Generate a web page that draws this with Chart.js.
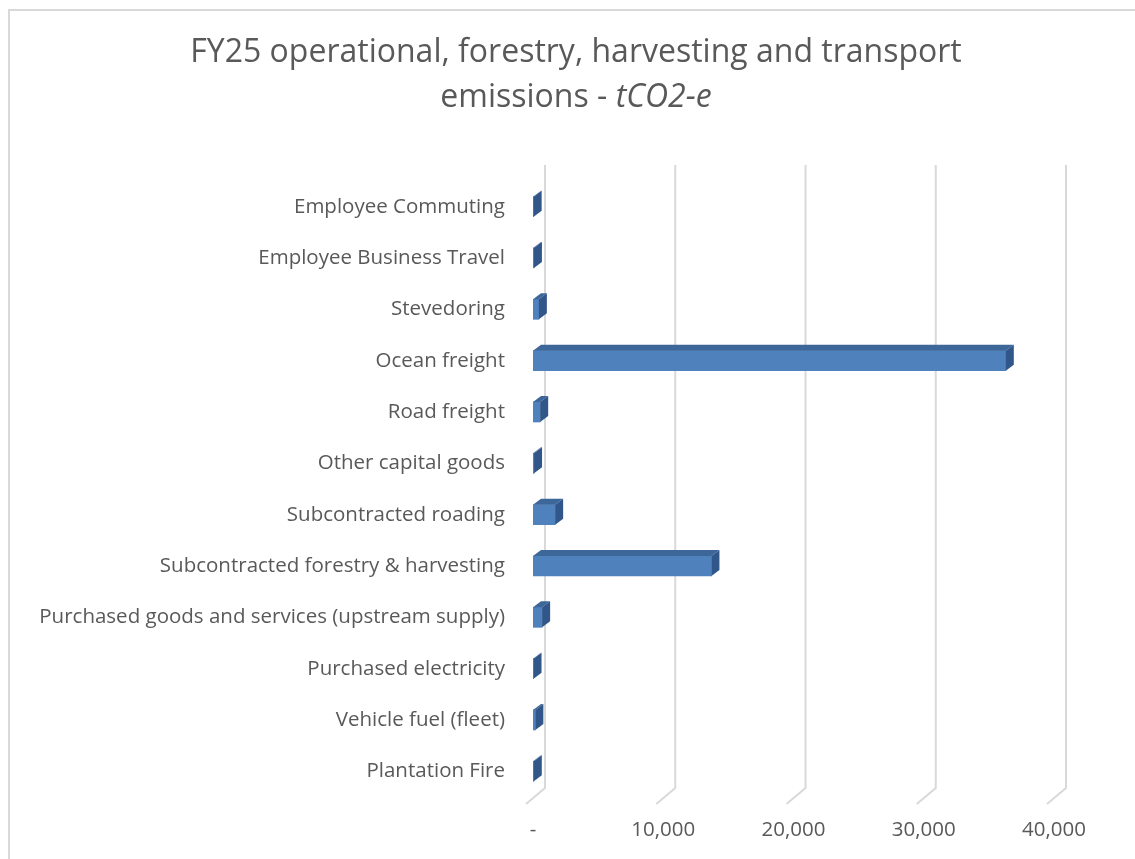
<!DOCTYPE html>
<html>
<head>
<meta charset="utf-8">
<script src="https://cdn.jsdelivr.net/npm/chart.js@4"></script>
<style>
  body { margin: 0; background: #fff; }
  #wrap { width: 1135px; height: 859px; }
</style>
</head>
<body>
<div id="wrap"><canvas id="emissionsChart" width="1135" height="859"></canvas></div>
<script>
// categories, top to bottom as shown
const categories = [
    'Employee Commuting',
    'Employee Business Travel',
    'Stevedoring',
    'Ocean freight',
    'Road freight',
    'Other capital goods',
    'Subcontracted roading',
    'Subcontracted forestry & harvesting',
    'Purchased goods and services (upstream supply)',
    'Purchased electricity',
    'Vehicle fuel (fleet)',
    'Plantation Fire'
];
// tCO2-e
const emissions = [50, 70, 450, 36300, 550, 80, 1700, 13700, 700, 40, 180, 60];
const xTicks = [0, 10000, 20000, 30000, 40000];

const textColor = '#595959';
const gridColor = '#d9d9d9';
const fontFamily = 'Open Sans';
const depthX = 8, depthY = -6;

const chartFrame = {
    id: 'chartFrame',
    beforeDraw(chart) {
        const c = chart.ctx;
        c.save();
        c.strokeStyle = gridColor;
        c.lineWidth = 2;
        c.beginPath();
        c.moveTo(9, chart.height);
        c.lineTo(9, 10);
        c.lineTo(chart.width, 10);
        c.stroke();

        // title, with the unit in italics
        c.fillStyle = textColor;
        c.textBaseline = 'middle';
        c.textAlign = 'center';
        c.font = '32px ' + fontFamily;
        c.fillText('FY25 operational, forestry, harvesting and transport', 576, 53);
        const a = 'emissions - ';
        const b = 'tCO2-e';
        const wa = c.measureText(a).width;
        c.font = 'italic 32px ' + fontFamily;
        const wb = c.measureText(b).width;
        const x0 = 576 - (wa + wb) / 2;
        c.textAlign = 'left';
        c.font = '32px ' + fontFamily;
        c.fillText(a, x0, 98);
        c.font = 'italic 32px ' + fontFamily;
        c.fillText(b, x0 + wa, 98);
        c.restore();
    },
    beforeDatasetsDraw(chart) {
        // back wall gridlines and floor slants
        const c = chart.ctx;
        const xs = chart.scales.x;
        const area = chart.chartArea;
        c.save();
        c.strokeStyle = gridColor;
        c.lineWidth = 2;
        xTicks.forEach(v => {
            const px = xs.getPixelForValue(v) + 12;
            c.beginPath();
            c.moveTo(px, area.top - 16);
            c.lineTo(px, area.bottom - 9);
            c.lineTo(px - 19, area.bottom + 7);
            c.stroke();
        });
        c.restore();
    },
    afterDatasetsDraw(chart) {
        // top and side faces of the bars
        const c = chart.ctx;
        chart.getDatasetMeta(0).data.forEach(bar => {
            const top = bar.y - bar.height / 2;
            const bottom = bar.y + bar.height / 2;
            c.save();
            c.fillStyle = '#3d6799';
            c.beginPath();
            c.moveTo(bar.base, top);
            c.lineTo(bar.x, top);
            c.lineTo(bar.x + depthX, top + depthY);
            c.lineTo(bar.base + depthX, top + depthY);
            c.closePath();
            c.fill();
            c.fillStyle = '#30568a';
            c.beginPath();
            c.moveTo(bar.x, top);
            c.lineTo(bar.x + depthX, top + depthY);
            c.lineTo(bar.x + depthX, bottom + depthY);
            c.lineTo(bar.x, bottom);
            c.closePath();
            c.fill();
            c.restore();
        });
    }
};

new Chart(document.getElementById('emissionsChart'), {
    type: 'bar',
    data: {
        labels: categories,
        datasets: [{
            data: emissions,
            backgroundColor: '#4f81bd',
            barThickness: 20
        }]
    },
    options: {
        indexAxis: 'y',
        responsive: false,
        animation: false,
        layout: { padding: { top: 181, right: 81, left: 0, bottom: 0 } },
        plugins: {
            legend: { display: false },
            tooltip: { enabled: false }
        },
        scales: {
            x: {
                min: 0,
                max: 40000,
                afterBuildTicks(scale) {
                    scale.ticks = xTicks.map(v => ({ value: v }));
                },
                afterFit(scale) { scale.height = 62; },
                grid: { display: false, drawTicks: false },
                border: { display: false },
                ticks: {
                    color: textColor,
                    font: { family: fontFamily, size: 20.5 },
                    padding: 21,
                    callback: v => v === 0 ? '-' : v.toLocaleString('en-US')
                }
            },
            y: {
                afterFit(scale) { scale.width = 533; },
                grid: { display: false, drawTicks: false },
                border: { display: false },
                ticks: {
                    color: textColor,
                    font: { family: fontFamily, size: 20.5 },
                    padding: 28
                }
            }
        }
    },
    plugins: [chartFrame]
});
</script>
</body>
</html>
